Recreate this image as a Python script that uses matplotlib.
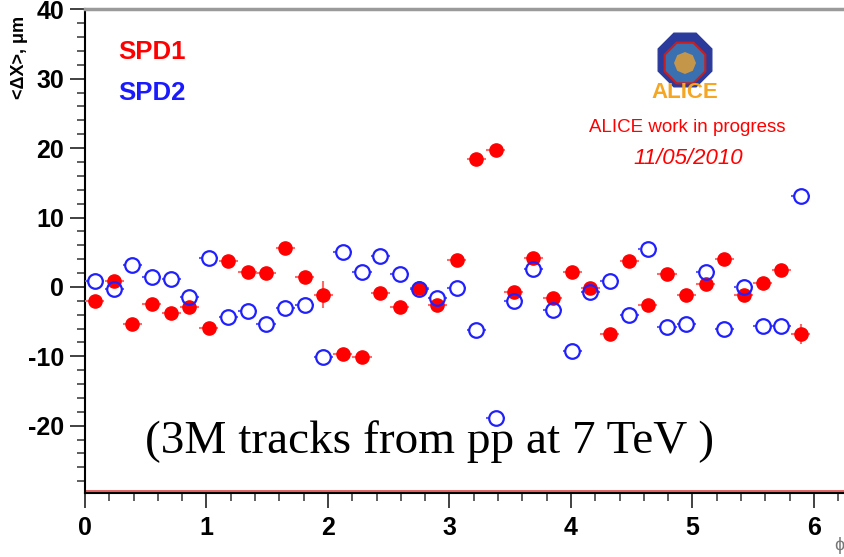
import matplotlib.pyplot as plt
from matplotlib.patches import RegularPolygon
from matplotlib.ticker import MultipleLocator
import numpy as np

# phi bin centres (40 bins over 2pi, last two empty)
phi = [0.08, 0.24, 0.39, 0.55, 0.71, 0.86, 1.02, 1.18, 1.34, 1.49,
       1.65, 1.81, 1.96, 2.12, 2.28, 2.43, 2.59, 2.75, 2.90, 3.06,
       3.22, 3.38, 3.53, 3.69, 3.85, 4.01, 4.16, 4.32, 4.48, 4.63,
       4.79, 4.95, 5.11, 5.26, 5.42, 5.58, 5.73, 5.89]
phi_halfwidth = 0.0785

spd1 = [-2.1, 0.9, -5.3, -2.4, -3.7, -2.9, -5.9, 3.8, 2.2, 2.0,
        5.6, 1.5, -1.1, -9.6, -10.1, -0.9, -2.9, -0.1, -2.6, 3.9,
        18.5, 19.7, -0.8, 4.2, -1.6, 2.2, -0.1, -6.8, 3.8, -2.6,
        1.9, -1.2, 0.4, 4.0, -1.1, 0.5, 2.4, -6.8]
spd1_err = [0.5, 0.5, 0.5, 0.5, 0.5, 0.5, 0.5, 0.5, 0.5, 0.5,
            0.6, 0.5, 1.9, 0.8, 0.5, 0.6, 0.5, 0.8, 0.6, 0.5,
            0.5, 0.5, 0.6, 0.5, 0.5, 0.5, 0.6, 0.5, 0.5, 0.5,
            0.5, 0.5, 0.5, 0.5, 0.6, 0.5, 0.5, 1.4]

spd2 = [0.8, -0.3, 3.1, 1.5, 1.2, -1.4, 4.2, -4.4, -3.5, -5.4,
        -3.1, -2.6, -10.1, 5.1, 2.2, 4.4, 1.9, -0.3, -1.6, -0.2,
        -6.2, -18.9, -2.0, 2.6, -3.3, -9.3, -0.8, 0.8, -4.1, 5.4,
        -5.8, -5.3, 2.2, -6.0, 0.0, -5.7, -5.7, 13.1]

W, H = 844, 557

def fx(px):
    return px / W

def fy(py):
    return 1 - py / H

plt.rcParams['font.family'] = ['Liberation Sans', 'DejaVu Sans']

fig = plt.figure(figsize=(W / 100, H / 100), dpi=100)
ax = fig.add_axes([fx(85), fy(492.7), (848.4 - 85) / W, (492.7 - 9.3) / H])

ax.errorbar(phi, spd1, xerr=phi_halfwidth, yerr=spd1_err, fmt='o',
            color='red', ecolor='#ff6a6a', elinewidth=1.5, ms=9.5,
            capsize=0, zorder=3)

# SPD2: open markers, error bar drawn only outside the ring (ROOT style)
x2 = np.array(phi)
y2 = np.array(spd2)
ring = 0.058
ax.hlines(y2, x2 - phi_halfwidth, x2 - ring, color='#5a5aff', lw=1.5, zorder=4)
ax.hlines(y2, x2 + ring, x2 + phi_halfwidth, color='#5a5aff', lw=1.5, zorder=4)
ax.plot(x2, y2, 'o', mfc='none', mec='#2020ff', mew=1.6, ms=10.5, zorder=5)

ax.axhline(-29.42, color='#e04848', lw=1.2, zorder=2)

ax.set_xlim(0, 6.2832)
ax.set_ylim(-29.65, 40)
ax.xaxis.set_major_locator(MultipleLocator(1))
ax.xaxis.set_minor_locator(MultipleLocator(0.2))
ax.yaxis.set_minor_locator(MultipleLocator(2))
ax.set_yticks([-20, -10, 0, 10, 20, 30, 40])
ax.set_yticklabels(['-20', '-10', '0', '10', '20', '30', '40'])

ax.tick_params(which='major', direction='out', length=11, width=1.3,
               color='#333333', labelsize=18, pad=4)
ax.tick_params(which='minor', direction='out', length=5.5, width=1.1,
               color='#333333')
ax.tick_params(axis='x', which='major', pad=6)
for lab in ax.get_xticklabels() + ax.get_yticklabels():
    lab.set_fontweight('bold')

ax.spines['right'].set_visible(False)
ax.spines['top'].set_color('#9a9a9a')
ax.spines['top'].set_linewidth(2.5)
ax.spines['left'].set_linewidth(1.5)
ax.spines['bottom'].set_linewidth(1.5)

# labels and annotations
fig.text(fx(20), fy(57), '<ΔX>, μm', rotation=90, ha='center', va='center',
         fontsize=13, fontweight='bold')
fig.text(fx(834), fy(546), 'ϕ', ha='left', va='center', fontsize=13,
         color='#777777')
fig.text(fx(118), fy(52), 'SPD1', color='red', fontsize=18.5,
         fontweight='bold', ha='left', va='center')
fig.text(fx(118), fy(93), 'SPD2', color='#1a1aff', fontsize=18.5,
         fontweight='bold', ha='left', va='center')
fig.text(fx(687), fy(128), 'ALICE work in progress', color='red',
         fontsize=13.5, ha='center', va='center')
fig.text(fx(688), fy(158), '11/05/2010', color='red', fontsize=16,
         style='italic', ha='center', va='center')
fig.text(fx(145), fy(452.7), '(3M tracks from pp at 7 TeV )',
         family=['Liberation Serif', 'DejaVu Serif'], fontsize=34,
         ha='left', va='baseline')

# ALICE logo (approximation) on an overlay in pixel units
ov = fig.add_axes([0, 0, 1, 1], facecolor='none')
ov.set_xlim(0, W)
ov.set_ylim(H, 0)
ov.axis('off')
ov.add_patch(RegularPolygon((685, 60), 8, radius=29, orientation=np.pi / 8,
                            facecolor='#2b3b9c', edgecolor='#2b3b9c'))
ov.add_patch(RegularPolygon((685, 63), 8, radius=22, orientation=np.pi / 8,
                            facecolor='#3a6fb0', edgecolor='#c81e1e', lw=1.5))
ov.add_patch(RegularPolygon((685, 63), 8, radius=11, orientation=0,
                            facecolor='#e8a030', edgecolor='none', alpha=0.8))
ov.text(685, 92, 'ALICE', color='#f5a623', fontsize=16, fontweight='bold',
        ha='center', va='center')

fig.savefig('out.png', dpi=100)
